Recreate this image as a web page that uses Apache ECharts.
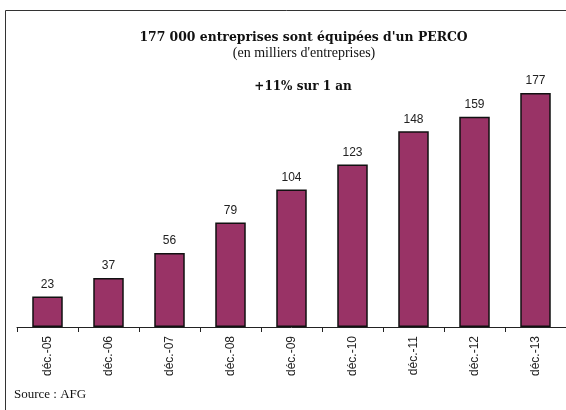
<!DOCTYPE html>
<html><head><meta charset="utf-8">
<script src="https://cdn.jsdelivr.net/npm/echarts@6/dist/echarts.min.js"></script>
<style>html,body{margin:0;padding:0;background:#fff}#c{width:566px;height:410px}</style>
</head><body><div id="c"></div>
<script>
var categories = ['déc.-05','déc.-06','déc.-07','déc.-08','déc.-09','déc.-10','déc.-11','déc.-12','déc.-13'];
var values = [23, 37, 56, 79, 104, 123, 148, 159, 177];
var titleText = "177 000 entreprises sont équipées d'un PERCO";
var subtitleText = "(en milliers d'entreprises)";
var noteText = "+11% sur 1 an";
var sourceText = "Source : AFG";

var chart = echarts.init(document.getElementById('c'), null, {renderer:'canvas'});
chart.setOption({
  animation:false,
  backgroundColor:'#fff',
  grid:{left:17, right:-3, top:62.6, bottom:83, containLabel:false},
  xAxis:{type:'category', data:categories,
    axisLine:{lineStyle:{color:'#222', width:1}},
    axisTick:{show:true, alignWithLabel:false, length:5, lineStyle:{color:'#222'}},
    axisLabel:{rotate:90, margin:9, fontFamily:'Liberation Sans, Arial', fontSize:12, color:'#222'}
  },
  yAxis:{type:'value', min:0, max:200, show:false, splitLine:{show:false}},
  series:[{type:'bar', data:values, barWidth:'50%',
    itemStyle:{color:'#993366', borderColor:'#111', borderWidth:1.5},
    label:{show:true, position:'top', distance:6, fontFamily:'Liberation Sans, Arial', fontSize:12, color:'#222'}
  }],
  graphic:[
    {type:'line', shape:{x1:5.5,y1:10.5,x2:570,y2:10.5}, style:{stroke:'#333', lineWidth:1}},
    {type:'line', shape:{x1:5.5,y1:10.5,x2:5.5,y2:420}, style:{stroke:'#333', lineWidth:1}},
    {type:'text', x:303.5, y:38, style:{text:titleText, fontFamily:'DejaVu Serif', fontWeight:'bold', fontSize:12.4, fill:'#111', align:'center', verticalAlign:'middle'}},
    {type:'text', x:304, y:53, style:{text:subtitleText, fontFamily:'Liberation Serif', fontSize:14, fill:'#111', align:'center', verticalAlign:'middle'}},
    {type:'text', x:303, y:87, style:{text:noteText, fontFamily:'DejaVu Serif', fontWeight:'bold', fontSize:12, fill:'#111', align:'center', verticalAlign:'middle'}},
    {type:'text', x:14, y:395, style:{text:sourceText, fontFamily:'Liberation Serif', fontSize:13, fill:'#111', align:'left', verticalAlign:'middle'}}
  ]
});
</script></body></html>
